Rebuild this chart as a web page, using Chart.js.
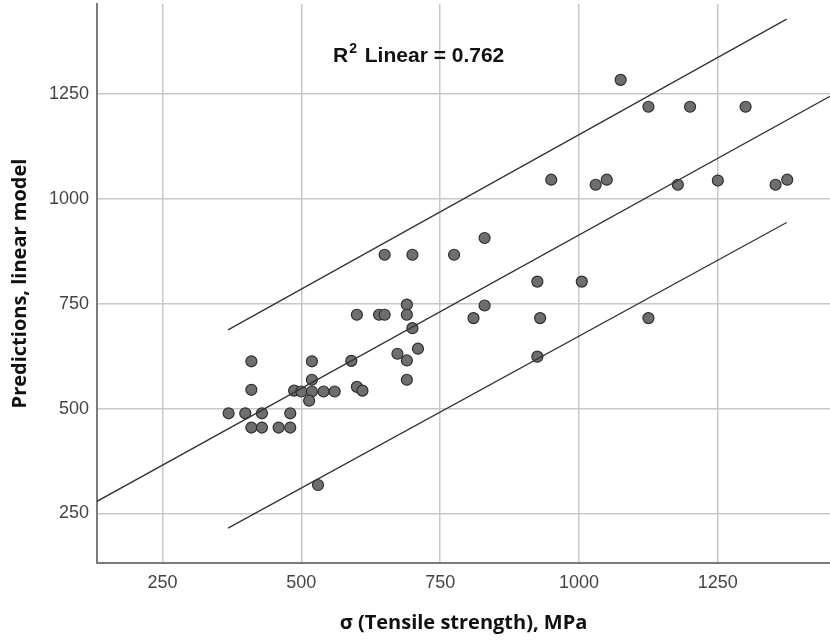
<!DOCTYPE html>
<html>
<head>
<meta charset="utf-8">
<script src="https://cdn.jsdelivr.net/npm/chart.js@4.4.1/dist/chart.umd.min.js"></script>
<style>
  html, body { margin: 0; padding: 0; background: #fff; }
  #wrap { width: 830px; height: 640px; }
</style>
</head>
<body>
<div id="wrap"><canvas id="c" width="830" height="640"></canvas></div>
<script>
// observed tensile strength (MPa) vs value predicted by the linear model
const tensile = [
  1075, 1125, 1200, 1300,
  950, 1030, 1050, 1178, 1250, 1354, 1375,
  650, 700, 775, 830,
  925, 1005,
  600, 640, 650, 690, 690, 700, 830, 810, 930, 1125,
  710, 673, 690, 690, 925, 590,
  410, 519, 410, 519, 600, 610,
  487, 500, 519, 540, 560, 514,
  369, 399, 429, 480,
  410, 429, 459, 480,
  530
]
const predicted = [
  1284, 1220, 1220, 1220,
  1046, 1034, 1046, 1034, 1044, 1034, 1046,
  867, 867, 867, 907,
  803, 803,
  724, 724, 724, 748, 724, 692, 746, 716, 716, 716,
  643, 631, 615, 569, 624, 614,
  613, 613, 545, 569, 552, 543,
  543, 541, 541, 541, 541, 519,
  489, 489, 489, 489,
  455, 455, 455, 455,
  318
]

// fit line and the two 95% prediction lines (end points)
const fitX = [132, 1452]
const fitY = [279, 1245]
const bandX = [368, 1374]
const upperY = [688, 1429]
const lowerY = [215, 944]

const xTicks = [250, 500, 750, 1000, 1250]
const yTicks = [250, 500, 750, 1000, 1250]
const xRange = [132, 1452]
const yRange = [132, 1465]

const r2Text = ' Linear = 0.762'

const pairs = (xs, ys) => xs.map((x, i) => ({x: x, y: ys[i]}))

const lineSet = (xs, ys) => ({
  type: 'line',
  data: pairs(xs, ys),
  borderColor: '#333',
  borderWidth: 1.3,
  pointRadius: 0,
  fill: false,
  order: 0
})

const r2Label = {
  id: 'r2Label',
  afterDatasetsDraw(chart) {
    const ctx = chart.ctx,
          x = chart.scales.x.getPixelForValue(557),
          y = chart.scales.y.getPixelForValue(1327)
    ctx.save()
    ctx.fillStyle = '#111'
    ctx.textBaseline = 'alphabetic'
    ctx.font = 'bold 21px "Liberation Sans", Arial, sans-serif'
    ctx.fillText('R', x, y)
    let w = ctx.measureText('R').width + 1
    ctx.font = 'bold 14px "Liberation Sans", Arial, sans-serif'
    ctx.fillText('2', x + w, y - 9)
    w += ctx.measureText('2').width + 2
    ctx.font = 'bold 21px "Liberation Sans", Arial, sans-serif'
    ctx.fillText(r2Text, x + w, y)
    ctx.restore()
  }
}

// keep the plot box where the picture has it: no extra room for edge labels
const fixBox = (s, key, size) => {
  s[key] = size
  s.paddingTop = s.paddingBottom = s.paddingLeft = s.paddingRight = 0
}

const tickFont = {family: '"Liberation Sans", Arial, sans-serif', size: 18}
const titleFont = {family: '"Open Sans", "Liberation Sans", sans-serif', size: 20, weight: 'bold'}

new Chart(document.getElementById('c'), {
  type: 'scatter',
  data: {
    datasets: [
      lineSet(fitX, fitY),
      lineSet(bandX, upperY),
      lineSet(bandX, lowerY),
      {
        type: 'scatter',
        data: pairs(tensile, predicted),
        backgroundColor: '#6e6e6e',
        borderColor: '#2e2e2e',
        borderWidth: 1.2,
        pointRadius: 5.5,
        order: 1
      }
    ]
  },
  options: {
    responsive: false,
    animation: false,
    devicePixelRatio: 1,
    layout: {autoPadding: false, padding: {top: 4, right: 0, left: 0, bottom: 0}},
    plugins: {legend: {display: false}, tooltip: {enabled: false}},
    scales: {
      x: {
        type: 'linear',
        min: xRange[0],
        max: xRange[1],
        afterBuildTicks: s => { s.ticks = xTicks.map(v => ({value: v})) },
        afterFit: s => fixBox(s, 'height', 77),
        grid: {color: '#c8c8c8', lineWidth: 1.5, drawTicks: false},
        border: {color: '#7a7a7a', width: 2},
        ticks: {font: tickFont, color: '#444', padding: 9, maxRotation: 0, callback: v => String(v)},
        title: {display: true, text: 'σ (Tensile strength), MPa', font: titleFont, color: '#111', padding: {top: 5, bottom: 5}}
      },
      y: {
        type: 'linear',
        min: yRange[0],
        max: yRange[1],
        afterBuildTicks: s => { s.ticks = yTicks.map(v => ({value: v})) },
        afterFit: s => fixBox(s, 'width', 97),
        grid: {color: '#c8c8c8', lineWidth: 1.5, drawTicks: false},
        border: {color: '#7a7a7a', width: 2},
        ticks: {font: tickFont, color: '#444', padding: 8, callback: v => String(v)},
        title: {display: true, text: 'Predictions, linear model', font: titleFont, color: '#111', padding: {top: 8, bottom: 8}}
      }
    }
  },
  plugins: [r2Label]
})
</script>
</body>
</html>
